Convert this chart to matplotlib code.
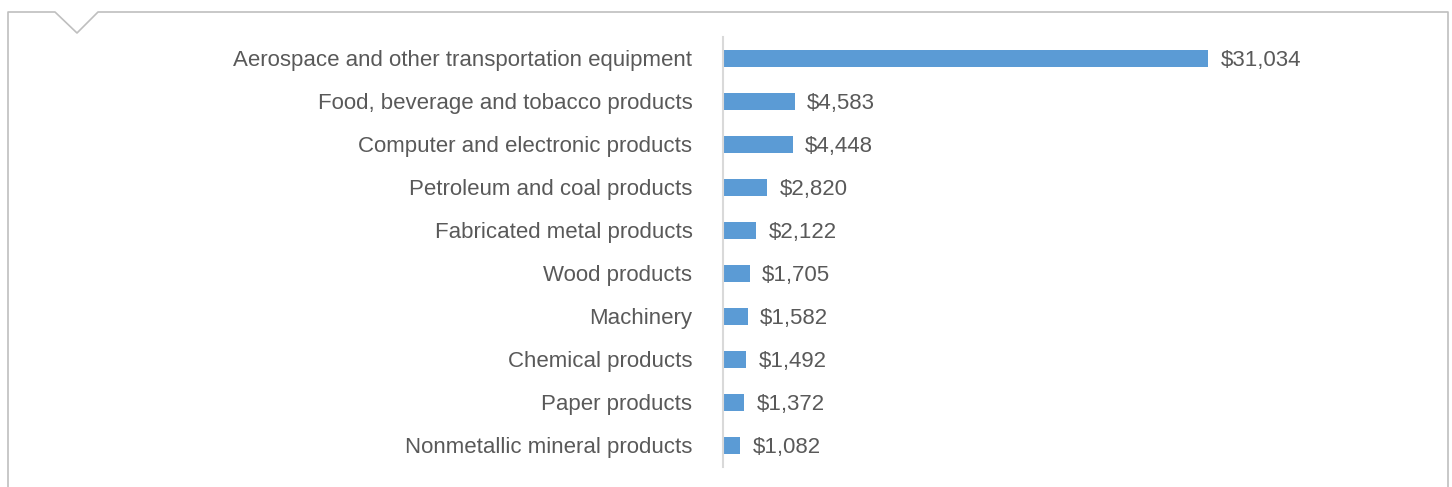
import matplotlib.pyplot as plt
from matplotlib.lines import Line2D

categories = [
    "Aerospace and other transportation equipment",
    "Food, beverage and tobacco products",
    "Computer and electronic products",
    "Petroleum and coal products",
    "Fabricated metal products",
    "Wood products",
    "Machinery",
    "Chemical products",
    "Paper products",
    "Nonmetallic mineral products",
]
values = [31034, 4583, 4448, 2820, 2122, 1705, 1582, 1492, 1372, 1082]

W, H = 1452, 487
fig = plt.figure(figsize=(W / 100, H / 100), dpi=100)
plt.rcParams['font.family'] = ['Liberation Sans', 'DejaVu Sans']

# axes in pixel terms: x 723..1420, y 37..467 (from top)
x0, x1, ytop, ybot = 723, 1420, 37, 467
ax = fig.add_axes([x0 / W, 1 - ybot / H, (x1 - x0) / W, (ybot - ytop) / H])

pos = list(range(len(categories)))
ax.barh(pos, values, height=0.38, color='#5b9bd5', left=0)
ax.set_ylim(len(categories) - 0.5, -0.5)
ax.set_xlim(0, 31034 * (x1 - x0) / 485)

ax.set_yticks(pos)
ax.set_yticklabels(categories, fontsize=16, color='#595959')
ax.tick_params(axis='y', length=0, pad=22)
ax.set_xticks([])
for s in ['top', 'right', 'bottom']:
    ax.spines[s].set_visible(False)
ax.spines['left'].set_color('#d9d9d9')
ax.spines['left'].set_linewidth(1.5)

for p, v in zip(pos, values):
    ax.annotate(f"${v:,}", (v, p), xytext=(9, 0), textcoords='offset points',
                va='center_baseline', ha='left', fontsize=16, color='#595959')

# outer frame with notch
def px(x, y):
    return x / W, 1 - y / H

xs = [8, 8, 55, 77, 98, 1448, 1448]
ys = [487, 12, 12, 33, 12, 12, 487]
pts = [px(a, b) for a, b in zip(xs, ys)]
fig.add_artist(Line2D([p[0] for p in pts], [p[1] for p in pts],
                      transform=fig.transFigure, color='#bfbfbf', lw=1.2))

fig.savefig('out.png', dpi=100)
